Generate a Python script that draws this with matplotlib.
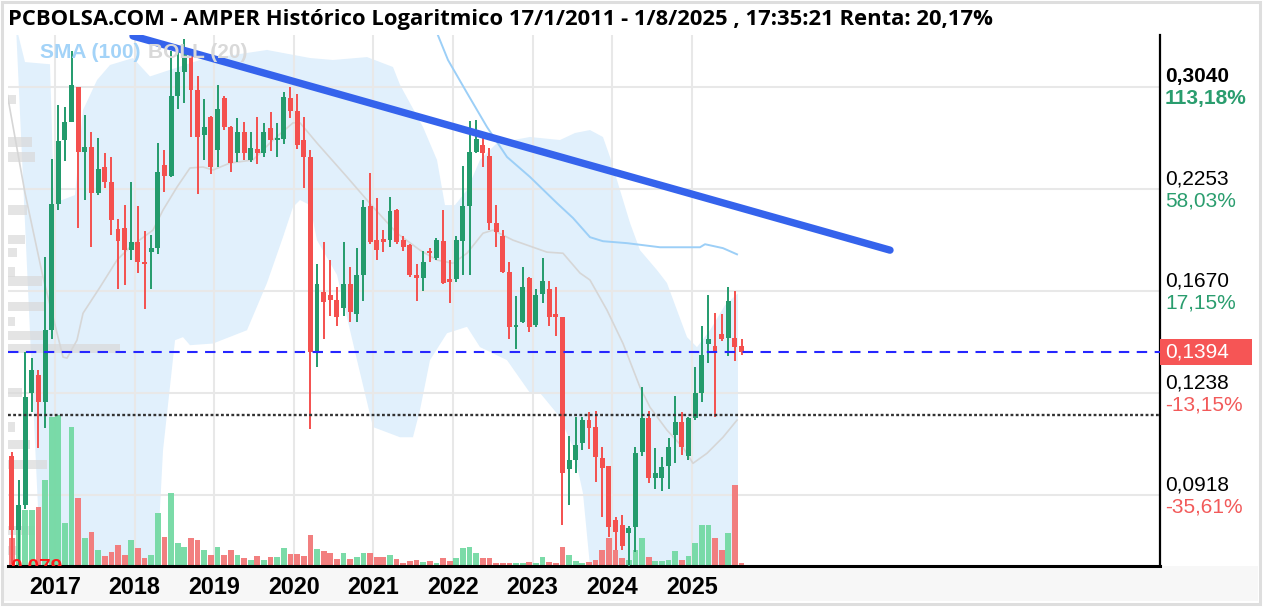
import numpy as np
import pandas as pd
import matplotlib
matplotlib.use("Agg")
import matplotlib.pyplot as plt
from matplotlib.patches import Rectangle
from matplotlib.ticker import NullLocator

# ------------------------------------------------------------------
# Monthly candles May 2016 - Aug 2025
# ------------------------------------------------------------------
months = pd.period_range("2016-05", "2025-08", freq="M")

opens = [0.1230, 0.1030, 0.0828, 0.0890, 0.1238, 0.1304, 0.1205, 0.1490, 0.2155, 0.2599,
         0.2741, 0.3036, 0.2510, 0.2547, 0.2225, 0.2400, 0.2297, 0.2000, 0.2010, 0.1885,
         0.1930, 0.1820, 0.1870, 0.1895, 0.2415, 0.2340, 0.2960, 0.3170, 0.3380, 0.3010,
         0.2640, 0.2780, 0.2524, 0.2945, 0.2700, 0.2500, 0.2660, 0.2450, 0.2530, 0.2500,
         0.2690, 0.2600, 0.2610, 0.2940, 0.2830, 0.2599, 0.2470, 0.1394, 0.1665, 0.1650,
         0.1625, 0.1590, 0.1702, 0.1560, 0.1752, 0.2140, 0.1940, 0.1935, 0.1941, 0.2120,
         0.1941, 0.1912, 0.1740, 0.1735, 0.1880, 0.1840, 0.1935, 0.1720, 0.1730, 0.1935,
         0.2140, 0.2510, 0.2560, 0.2480, 0.2040, 0.1960, 0.1765, 0.1500, 0.1525, 0.1735,
         0.1510, 0.1655, 0.1677, 0.1560, 0.1547, 0.0990, 0.1016, 0.1070, 0.1143, 0.1120,
         0.1022, 0.1000, 0.0852, 0.0840, 0.0820, 0.0835, 0.1040, 0.1150, 0.0965, 0.0964,
         0.1000, 0.1095, 0.1136, 0.1030, 0.1150, 0.1238, 0.1430, 0.1420, 0.1470, 0.1455,
         0.1455, 0.1420]
highs = [0.1260, 0.1040, 0.0958, 0.1394, 0.1373, 0.1323, 0.1842, 0.2459, 0.2882, 0.2863,
         0.3380, 0.3040, 0.2796, 0.2664, 0.2615, 0.2500, 0.2470, 0.2060, 0.2150, 0.2300,
         0.2140, 0.1990, 0.1970, 0.2580, 0.2524, 0.3380, 0.3380, 0.3500, 0.3400, 0.3135,
         0.2930, 0.2790, 0.3055, 0.2960, 0.2710, 0.2770, 0.2740, 0.2660, 0.2780, 0.2730,
         0.2820, 0.2730, 0.2990, 0.3040, 0.2980, 0.2780, 0.2524, 0.1805, 0.1925, 0.1830,
         0.1690, 0.1930, 0.1790, 0.1895, 0.2183, 0.2360, 0.2195, 0.1999, 0.2200, 0.2125,
         0.1960, 0.1915, 0.1805, 0.1875, 0.1895, 0.1950, 0.2120, 0.1830, 0.1960, 0.2410,
         0.2750, 0.2760, 0.2650, 0.2540, 0.2150, 0.1999, 0.1820, 0.1645, 0.1790, 0.1740,
         0.1677, 0.1840, 0.1717, 0.1690, 0.1547, 0.1090, 0.1153, 0.1153, 0.1170, 0.1173,
         0.1056, 0.1000, 0.0860, 0.0865, 0.0837, 0.1056, 0.1260, 0.1173, 0.1053, 0.1025,
         0.1085, 0.1225, 0.1170, 0.1152, 0.1335, 0.1505, 0.1650, 0.1565, 0.1560, 0.1690,
         0.1668, 0.1449]
lows = [0.1000, 0.0750, 0.0745, 0.0880, 0.1170, 0.1053, 0.1117, 0.1450, 0.2120, 0.2443,
        0.2741, 0.2011, 0.2180, 0.1898, 0.2215, 0.2260, 0.1965, 0.1680, 0.1700, 0.1830,
        0.1760, 0.1583, 0.1680, 0.1860, 0.2230, 0.2330, 0.2850, 0.2900, 0.2620, 0.2220,
        0.2450, 0.2350, 0.2400, 0.2680, 0.2370, 0.2440, 0.2450, 0.2440, 0.2420, 0.2470,
        0.2520, 0.2470, 0.2570, 0.2770, 0.2530, 0.2260, 0.1113, 0.1335, 0.1449, 0.1550,
        0.1505, 0.1550, 0.1525, 0.1525, 0.1620, 0.1915, 0.1830, 0.1870, 0.1897, 0.1915,
        0.1875, 0.1740, 0.1620, 0.1668, 0.1820, 0.1830, 0.1702, 0.1610, 0.1715, 0.1750,
        0.1750, 0.2500, 0.2400, 0.1999, 0.1900, 0.1760, 0.1449, 0.1410, 0.1520, 0.1480,
        0.1500, 0.1610, 0.1505, 0.1465, 0.0840, 0.0890, 0.0980, 0.1047, 0.1050, 0.0953,
        0.0860, 0.0811, 0.0780, 0.0780, 0.0745, 0.0776, 0.1030, 0.0950, 0.0934, 0.0928,
        0.0934, 0.1007, 0.1032, 0.1016, 0.1145, 0.1205, 0.1350, 0.1155, 0.1440, 0.1380,
        0.1360, 0.1383]
closes = [0.1030, 0.0828, 0.0890, 0.1222, 0.1323, 0.1205, 0.1490, 0.2155, 0.2592, 0.2741,
          0.3055, 0.2510, 0.2547, 0.2225, 0.2390, 0.2297, 0.2058, 0.1935, 0.1885, 0.1930,
          0.1820, 0.1805, 0.1895, 0.2365, 0.2340, 0.2960, 0.3170, 0.3380, 0.3010, 0.2620,
          0.2700, 0.2400, 0.2850, 0.2700, 0.2430, 0.2660, 0.2500, 0.2540, 0.2500, 0.2660,
          0.2600, 0.2610, 0.2950, 0.2830, 0.2560, 0.2470, 0.1394, 0.1702, 0.1615, 0.1625,
          0.1547, 0.1702, 0.1570, 0.1752, 0.2133, 0.1925, 0.1885, 0.1930, 0.2108, 0.1930,
          0.1897, 0.1752, 0.1735, 0.1820, 0.1865, 0.1941, 0.1710, 0.1715, 0.1941, 0.2140,
          0.2510, 0.2610, 0.2500, 0.2040, 0.1982, 0.1765, 0.1500, 0.1505, 0.1690, 0.1500,
          0.1650, 0.1717, 0.1547, 0.1547, 0.0980, 0.1016, 0.1062, 0.1143, 0.1117, 0.1025,
          0.0992, 0.0836, 0.0823, 0.0790, 0.0833, 0.1037, 0.1150, 0.0964, 0.0978, 0.0995,
          0.1056, 0.1136, 0.1056, 0.1150, 0.1238, 0.1383, 0.1449, 0.1400, 0.1449, 0.1620,
          0.1415, 0.1394]
volumes = [36, 28, 56, 56, 56, 59, 86, 149, 151, 43,
           139, 68, 28, 34, 16, 10, 14, 21, 11, 26,
           18, 8, 11, 53, 29, 73, 23, 19, 28, 26,
           16, 11, 19, 11, 16, 11, 8, 6, 10, 6,
           9, 9, 18, 12, 12, 10, 31, 17, 15, 13,
           7, 13, 7, 9, 13, 13, 9, 9, 11, 7,
           3, 5, 6, 4, 5, 3, 8, 5, 8, 18,
           19, 13, 8, 8, 3, 3, 3, 3, 3, 4,
           3, 9, 4, 3, 19, 11, 5, 3, 4, 6,
           16, 28, 16, 8, 6, 16, 28, 9, 5, 5,
           6, 15, 6, 10, 23, 41, 41, 28, 16, 33,
           81, 3]

# BOLL(20) band outline and middle line (decimal year, price)
boll_upper_t = [2016.510, 2016.623, 2016.937, 2016.987, 2017.088, 2017.251, 2017.352, 2017.528,
                2017.691, 2017.980, 2018.193, 2018.822, 2019.663, 2020.204, 2020.492, 2020.920,
                2021.246, 2021.334, 2021.623, 2021.799, 2021.899, 2022.025, 2022.176, 2022.339,
                2022.553, 2022.967, 2023.344, 2023.533, 2023.721, 2023.884, 2023.972, 2024.098,
                2024.224, 2024.349, 2024.563, 2024.688, 2024.814, 2024.940, 2025.065, 2025.229,
                2025.417, 2025.580]
boll_upper_p = [0.3635, 0.3268, 0.3247, 0.2180, 0.2180, 0.2212, 0.2839, 0.3100,
                0.3240, 0.3307, 0.3133, 0.3288, 0.3386, 0.3307, 0.3288, 0.3316,
                0.3221, 0.3057, 0.2701, 0.2452, 0.2148, 0.2148, 0.2245, 0.2452,
                0.2577, 0.2623, 0.2600, 0.2654, 0.2677, 0.2623, 0.2474, 0.2245,
                0.2038, 0.1882, 0.1775, 0.1709, 0.1578, 0.1458, 0.1416, 0.1488,
                0.1601, 0.1658]
boll_lower_t = [2016.510, 2016.862, 2018.219, 2018.281, 2018.357, 2018.508, 2018.608, 2018.696,
                2018.985, 2019.412, 2019.663, 2019.864, 2019.990, 2020.078, 2020.204, 2020.291,
                2020.543, 2020.794, 2020.995, 2021.334, 2021.497, 2021.585, 2021.711, 2021.925,
                2022.176, 2022.339, 2022.678, 2022.967, 2023.093, 2023.344, 2023.508, 2023.633,
                2023.721, 2023.784, 2025.580]
boll_lower_p = [0.3635, 0.06, 0.06, 0.0745, 0.1046, 0.1445, 0.1458, 0.1424,
                0.1431, 0.1488, 0.1709, 0.1955, 0.2136, 0.2180, 0.2148, 0.1938,
                0.1750, 0.1363, 0.1120, 0.1087, 0.1087, 0.1177, 0.1363, 0.1475,
                0.1503, 0.1416, 0.1363, 0.1238, 0.1238, 0.1153, 0.1055, 0.0922,
                0.0745, 0.06, 0.06]
boll_mid_t = [2016.397, 2016.623, 2016.849, 2017.101, 2017.151, 2017.276, 2017.352, 2017.565,
              2017.779, 2017.942, 2018.231, 2018.357, 2018.533, 2018.696, 2018.859, 2018.985,
              2019.198, 2019.487, 2019.739, 2019.990, 2020.078, 2020.291, 2020.668, 2020.995,
              2021.296, 2021.585, 2021.799, 2022.000, 2022.176, 2022.377, 2022.503, 2022.754,
              2023.181, 2023.382, 2023.595, 2023.721, 2023.935, 2024.136, 2024.349, 2024.475,
              2024.688, 2024.889, 2025.015, 2025.191, 2025.392, 2025.568]
boll_mid_p = [0.2985, 0.2226, 0.1739, 0.1375, 0.1371, 0.1445, 0.1564, 0.1688,
              0.1828, 0.1899, 0.1996, 0.2117, 0.2265, 0.2395, 0.2402, 0.2381,
              0.2430, 0.2452, 0.2600, 0.2734, 0.2734, 0.2577, 0.2333, 0.2136,
              0.1978, 0.1882, 0.1828, 0.1811, 0.1865, 0.1978, 0.1996, 0.1938,
              0.1871, 0.1865, 0.1760, 0.1724, 0.1578, 0.1431, 0.1259, 0.1187,
              0.1110, 0.1055, 0.1007, 0.1037, 0.1087, 0.1143]

# SMA(100)
sma_t = [2021.760, 2021.937, 2022.176, 2022.427, 2022.678, 2022.967, 2023.307, 2023.508,
         2023.721, 2023.884, 2024.186, 2024.601, 2025.103, 2025.166, 2025.392, 2025.568]
sma_p = [0.3640, 0.3288, 0.2985, 0.2701, 0.2474, 0.2333, 0.2160, 0.2068,
         0.1955, 0.1932, 0.1921, 0.1898, 0.1898, 0.1915, 0.1893, 0.1859]

# drawn resistance line
trend_t = [2017.98, 2027.49]
trend_p = [0.3528, 0.1882]

# volume-at-price profile (left edge)
profile_price = [0.2930, 0.2585, 0.2474, 0.2117, 0.1944, 0.1871, 0.1765, 0.1719, 0.1597,
                 0.1528, 0.1466, 0.1412, 0.1241, 0.1120, 0.1065, 0.1004, 0.0827, 0.0780]
profile_vol = [8, 24, 27, 19, 17, 9, 7, 34, 37, 7, 37, 112, 14, 7, 22, 39, 27, 9]

levels = [0.3040, 0.2253, 0.1670, 0.1238, 0.0918]
level_pct = ["113,18%", "58,03%", "17,15%", "-13,15%", "-35,61%"]
last_price = 0.1394
entry_price = 0.1160
min_label = "0,079"
years = list(range(2017, 2026))

title = "PCBOLSA.COM - AMPER Histórico Logaritmico 17/1/2011 - 1/8/2025 , 17:35:21 Renta: 20,17%"

# ------------------------------------------------------------------
# Style
# ------------------------------------------------------------------
GREEN = "#239b6c"
RED = "#f4504e"
VGREEN = "#74d9a4"
VRED = "#f27878"
BAND = "#e1f0fc"
GRID = "#e8e8e8"

plt.rcParams["font.family"] = ["Liberation Sans", "DejaVu Sans"]

W, H = 1264, 608
fig = plt.figure(figsize=(W / 100, H / 100), dpi=100, facecolor="white")
rect = [8 / W, 42 / H, 1152 / W, 531 / H]

xlim = (2016.4095, 2030.882)
ylim = (0.0745, 0.3538)

ax_bg = fig.add_axes(rect)
ax_pf = fig.add_axes(rect)
ax_vol = fig.add_axes(rect)
ax = fig.add_axes(rect)

for a in (ax_bg, ax_pf, ax):
    a.set_yscale("log")
    a.set_ylim(*ylim)
    a.yaxis.set_minor_locator(NullLocator())
for a in (ax_bg, ax_vol, ax):
    a.set_xlim(*xlim)
for a in (ax_bg, ax_pf, ax_vol, ax):
    for s in a.spines.values():
        s.set_visible(False)
for a in (ax_pf, ax_vol, ax):
    a.patch.set_visible(False)
for a in (ax_pf, ax_vol):
    a.set_xticks([])
    a.set_yticks([])

# background: grid + bollinger band
ax_bg.set_xticks(years)
ax_bg.set_yticks(levels)
ax_bg.tick_params(labelbottom=False, labelleft=False, length=0)
ax_bg.grid(True, color=GRID, lw=1.5, zorder=1.5)
ax_bg.set_axisbelow(False)
band_t = np.r_[boll_upper_t, boll_lower_t[::-1]]
band_p = np.r_[boll_upper_p, boll_lower_p[::-1]]
ax_bg.fill(band_t, band_p, color=BAND, lw=0, zorder=1)

# volume profile
ax_pf.set_xlim(0, 1152)
ax_pf.barh(profile_price, profile_vol, height=np.array(profile_price) * 0.027,
           left=0, color="#d9d9d9", alpha=0.7, lw=0)

# volume bars
t = np.array(months.year + (months.month - 0.5) / 12.0)
o = np.array(opens)
h = np.array(highs)
l = np.array(lows)
c = np.array(closes)
up = c >= o
ax_vol.set_ylim(0, 531)
ax_vol.bar(t, volumes, width=0.072, color=np.where(up, VGREEN, VRED), alpha=0.95, lw=0)

# candles
col = np.where(up, GREEN, RED)
ax.vlines(t, l, h, colors=col, lw=1.4, zorder=3)
body_lo = np.minimum(o, c)
body_hi = np.maximum(np.maximum(o, c), body_lo * 1.007)
ax.bar(t, body_hi - body_lo, bottom=body_lo, width=0.062, color=col, lw=0, zorder=4)

# indicators
ax.plot(boll_mid_t, boll_mid_p, color="#d6d6d6", lw=1.2, zorder=2)
ax.plot(sma_t, sma_p, color="#9ccff7", lw=1.4, zorder=2.5)
ax.plot(trend_t, trend_p, color="#3563ec", lw=5.3, solid_capstyle="round", zorder=6)

ax.axhline(last_price, color="#2626ff", lw=1.5, ls=(0, (5, 3.6)), zorder=5)
ax.axhline(entry_price, color="#333333", lw=1.7, ls=(0, (1.2, 1.0)), zorder=5)

ax.text(0.002, 0.0762, min_label, transform=ax.get_yaxis_transform(), va="top", ha="left",
        color="#ff1a1a", fontsize=15, fontweight="bold", clip_on=True, zorder=7)

# axes frame and year labels
ax.spines["right"].set_visible(True)
ax.spines["right"].set_linewidth(1.6)
ax.spines["right"].set_color("black")
ax.spines["bottom"].set_visible(True)
ax.spines["bottom"].set_linewidth(2.2)
ax.spines["bottom"].set_color("black")
ax.set_yticks([])
ax.set_xticks(years)
ax.set_xticklabels([str(y) for y in years], fontsize=16.8, fontweight="bold")
ax.tick_params(axis="x", length=0, pad=7.5)

# right price labels
for i, (lvl, pct) in enumerate(zip(levels, level_pct)):
    weight = "bold" if i == 0 else "normal"
    pcol = "#2a9d6e" if not pct.startswith("-") else "#f25a5a"
    ax.annotate(f"{lvl:.4f}".replace(".", ","), xy=(1, lvl), xycoords=("axes fraction", "data"),
                xytext=(3.6, 7.4), textcoords="offset points", va="center", ha="left",
                fontsize=15, fontweight=weight, color="black", annotation_clip=False)
    ax.annotate(pct, xy=(1, lvl), xycoords=("axes fraction", "data"),
                xytext=(3.6, -8.6), textcoords="offset points", va="center", ha="left",
                fontsize=15, fontweight=weight, color=pcol, annotation_clip=False)

# current price box
y_disp = ax.transData.transform((xlim[0], last_price))[1]
y_fig = y_disp / fig.bbox.height
fig.patches.append(Rectangle((1160 / W, y_fig - 13 / H), 92 / W, 26 / H, transform=fig.transFigure,
                             facecolor="#f65555", edgecolor="none", zorder=5))
fig.text(1165 / W, y_fig, f"{last_price:.4f}".replace(".", ","), color="white", fontsize=15,
         va="center", ha="left", zorder=6)

# bottom axis strip and outer frame
fig.patches.append(Rectangle((3 / W, 7 / H), 1255 / W, 35 / H, transform=fig.transFigure,
                             facecolor="#f7f7f7", edgecolor="none", zorder=-2))
fig.patches.append(Rectangle((1.5 / W, 4 / H), 1258 / W, 602 / H, transform=fig.transFigure,
                             fill=False, edgecolor="#dedede", lw=2.2, zorder=10))

# title and legend
fig.text(8 / W, 1 - 20 / H, title, fontsize=15.85, fontweight="bold", family="Open Sans",
         va="center", ha="left", color="black")
fig.text(40 / W, 1 - 52 / H, "SMA (100)", fontsize=15, fontweight="bold", color="#a3d3f8",
         va="center", ha="left", zorder=8)
fig.text(148 / W, 1 - 52 / H, "BOLL (20)", fontsize=15, fontweight="bold", color="#d9d9d9",
         va="center", ha="left", zorder=8)

fig.savefig("out.png", dpi=100, facecolor="white")
